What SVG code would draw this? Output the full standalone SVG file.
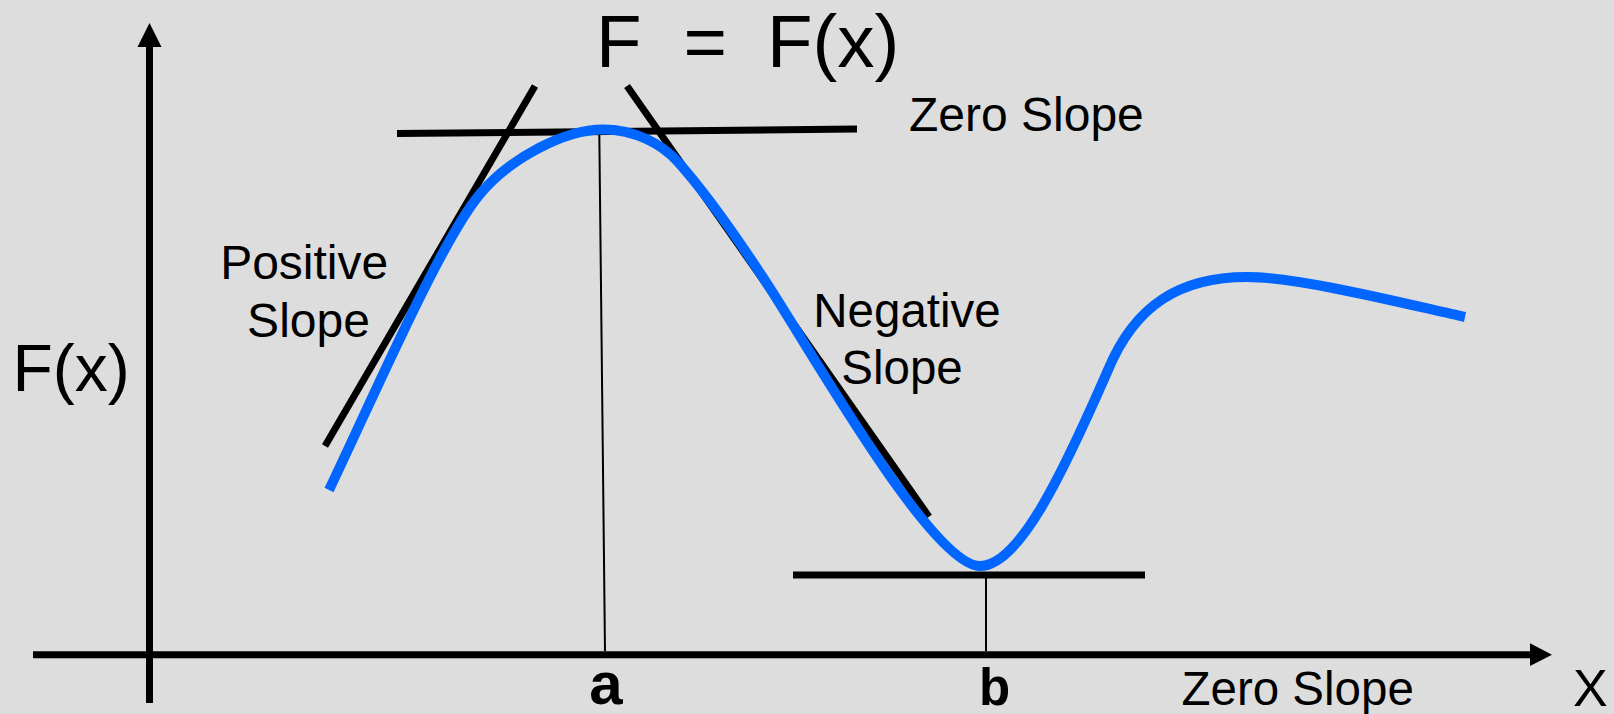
<svg xmlns="http://www.w3.org/2000/svg" width="1614" height="714" viewBox="0 0 1614 714">
<style>
.t{font-family:"Liberation Sans",Arial,sans-serif;fill:#000}
.b{font-weight:bold}
.ax{stroke:#000;stroke-width:7;fill:none}
.tan{stroke:#000;stroke-width:7;fill:none}
.thin{stroke:#000;stroke-width:2;fill:none}
.curve{stroke:#0066FF;stroke-width:10;fill:none}
</style>
<rect width="1614" height="714" fill="#DDDDDD"/>
<g id="connectors">
<g id="axes">
<line class="ax" x1="149.5" y1="703" x2="149.5" y2="46"/>
<polygon points="149.5,23 137.5,47 161.5,47" fill="#000"/>
<line class="ax" x1="33" y1="654.7" x2="1531" y2="654.7"/>
<polygon points="1552,654.7 1530,643.3 1530,666" fill="#000"/>
</g>
<g id="tangents">
<line class="tan" x1="397" y1="133.5" x2="857" y2="129" stroke-width="7.5"/>
<line class="tan" x1="325" y1="446" x2="535" y2="86"/>
<line class="tan" x1="627" y1="86" x2="929" y2="516.7"/>
<line class="tan" x1="793" y1="575" x2="1145" y2="575" stroke-width="7.5"/>
</g>
<g id="drops">
<line class="thin" x1="599.3" y1="133" x2="605" y2="651"/>
<line class="thin" x1="986" y1="577" x2="986" y2="651"/>
</g>
</g>
<g id="curve">
<path class="curve" d="M329,490 C374,396 440,242 480,194 C510,158 565,129.5 603,129.5 C635,129.5 662,144 678,162 C703,190 735,235 760,273 C800,331 930,566 980,566 C1018,566 1060,480 1108,370 C1135,305 1180,277 1247,277 C1300,277 1410,305 1465,317"/>
</g>
<g id="title"><text class="t" font-size="74.5" y="66.5"><tspan x="596">F</tspan><tspan x="683.4">=</tspan><tspan x="767">F(x)</tspan></text></g>
<g id="label-zero-top"><text class="t" font-size="48" x="909" y="131">Zero Slope</text></g>
<g id="label-positive"><text class="t" font-size="48" text-anchor="middle"><tspan x="304.2" y="279.3">Positive</tspan><tspan x="308.5" y="336.5">Slope</tspan></text></g>
<g id="label-negative"><text class="t" font-size="47.5" text-anchor="middle"><tspan x="907" y="326.7">Negative</tspan><tspan x="902" y="383.7">Slope</tspan></text></g>
<g id="label-fx"><text class="t" font-size="66" x="12.5" y="391">F(x)</text></g>
<g id="label-a"><text class="t b" font-size="60" x="606" y="704" text-anchor="middle">a</text></g>
<g id="label-b"><text class="t b" font-size="51" x="994.5" y="705" text-anchor="middle">b</text></g>
<g id="label-zero-bottom"><text class="t" font-size="47.5" x="1181.5" y="705">Zero Slope</text></g>
<g id="label-x"><text class="t" font-size="52" x="1573" y="705.5">X</text></g>
</svg>
